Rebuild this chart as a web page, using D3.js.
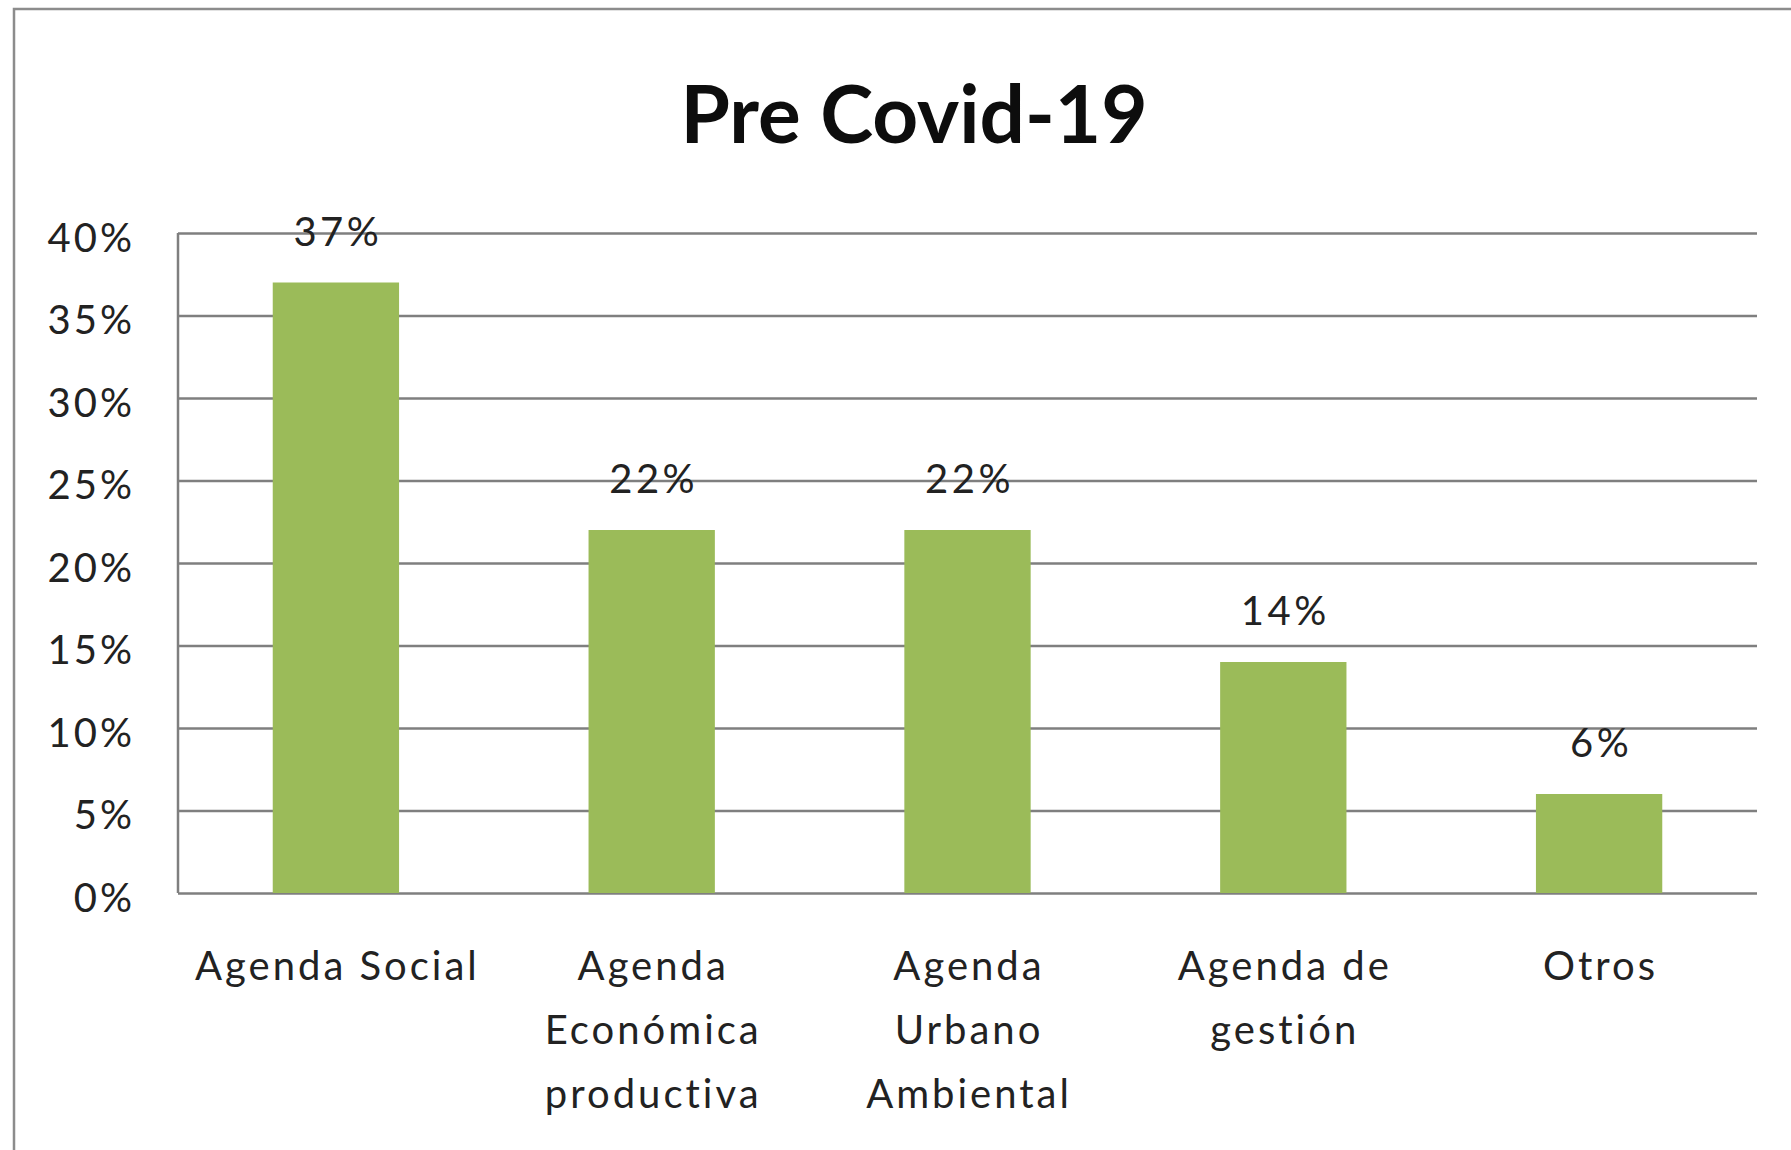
<!DOCTYPE html>
<html>
<head>
<meta charset="utf-8">
<script src="https://cdn.jsdelivr.net/npm/d3@7"></script>
<style>
  body { margin: 0; background: #fff; }
  svg { display: block; font-family: Lato, "Open Sans", sans-serif; }
  .axis .domain { display: none; }
  .grid line { stroke: #7f7f7f; stroke-width: 2.5; }
  .grid .domain { display: none; }
</style>
</head>
<body>
<div id="chart"></div>
<script>
// ---- data ----
const chartTitle = "Pre Covid-19";
const categories = ["Agenda Social", "Agenda Económica productiva", "Agenda Urbano Ambiental", "Agenda de gestión", "Otros"];
const categoryLines = [
  ["Agenda Social"],
  ["Agenda", "Económica", "productiva"],
  ["Agenda", "Urbano", "Ambiental"],
  ["Agenda de", "gestión"],
  ["Otros"]
];
const values = [0.37, 0.22, 0.22, 0.14, 0.06];
const yTicks = [0, 0.05, 0.10, 0.15, 0.20, 0.25, 0.30, 0.35, 0.40];

(function() {
  const fullW = 1791, fullH = 1150;
  const margin = { top: 233, right: 34, bottom: 257, left: 178 };
  const W = fullW - margin.left - margin.right;
  const H = fullH - margin.top - margin.bottom;

  const svg = d3.select("#chart")
    .append("svg")
    .attr("width", fullW)
    .attr("height", fullH);

  svg.append("rect")
    .attr("width", fullW).attr("height", fullH)
    .attr("fill", "#fff");

  // outer chart border (cropped on right / bottom)
  svg.append("rect")
    .attr("x", 14).attr("y", 9)
    .attr("width", fullW).attr("height", fullH)
    .attr("fill", "none")
    .attr("stroke", "#8c8c8c")
    .attr("stroke-width", 2.5);

  svg.append("text")
    .attr("x", 914)
    .attr("y", 143)
    .attr("text-anchor", "middle")
    .style("font-size", "80px")
    .style("font-weight", "700")
    .style("fill", "#0d0d0d")
    .text(chartTitle);

  const g = svg.append("g").attr("transform", `translate(${margin.left},${margin.top})`);

  const x = d3.scaleBand().domain(categories).range([0, W]).paddingInner(0.6).paddingOuter(0.3);
  const y = d3.scaleLinear().domain([0, 0.40]).range([H, 0]);

  // gridlines
  g.append("g")
    .attr("class", "grid")
    .call(d3.axisLeft(y).tickValues(yTicks).tickSize(-W).tickFormat(""));

  // left axis line
  g.append("line")
    .attr("x1", 0).attr("x2", 0)
    .attr("y1", 0).attr("y2", H)
    .attr("stroke", "#7f7f7f")
    .attr("stroke-width", 2.5);

  // y axis labels
  const yAxisG = g.append("g")
    .attr("class", "axis")
    .call(d3.axisLeft(y).tickValues(yTicks).tickFormat(d3.format(".0%")).tickSize(0).tickPadding(43));
  yAxisG.selectAll("text")
    .attr("dy", "0.45em")
    .style("font-size", "40px")
    .style("letter-spacing", "3px")
    .style("font-family", "Lato, 'Open Sans', sans-serif")
    .style("fill", "#222");

  // bars
  g.selectAll(".bar")
    .data(values)
    .join("rect")
    .attr("class", "bar")
    .attr("x", (d, i) => x(categories[i]))
    .attr("y", d => y(d))
    .attr("width", x.bandwidth())
    .attr("height", d => H - y(d))
    .attr("fill", "#9bbb59");

  // data labels
  g.selectAll(".bar-label")
    .data(values)
    .join("text")
    .attr("class", "bar-label")
    .attr("text-anchor", "middle")
    .attr("x", (d, i) => x(categories[i]) + x.bandwidth() / 2 + 2)
    .attr("y", d => y(d) - 37)
    .style("font-size", "40px")
    .style("letter-spacing", "3.5px")
    .style("fill", "#222")
    .text(d => d3.format(".0%")(d));

  // x labels, wrapped
  const xAxisG = g.append("g")
    .attr("class", "axis")
    .attr("transform", `translate(0,${H})`)
    .call(d3.axisBottom(x).tickSize(0).tickFormat(""));

  xAxisG.selectAll(".tick").each(function(d, i) {
    const t = d3.select(this).append("text")
      .attr("text-anchor", "middle")
      .style("font-size", "40px")
      .style("letter-spacing", "3px")
      .style("font-family", "Lato, 'Open Sans', sans-serif")
      .style("fill", "#222");
    categoryLines[i].forEach((line, j) => {
      t.append("tspan")
        .attr("x", 1.5)
        .attr("y", 87 + j * 64)
        .text(line);
    });
  });
})();
</script>
</body>
</html>
